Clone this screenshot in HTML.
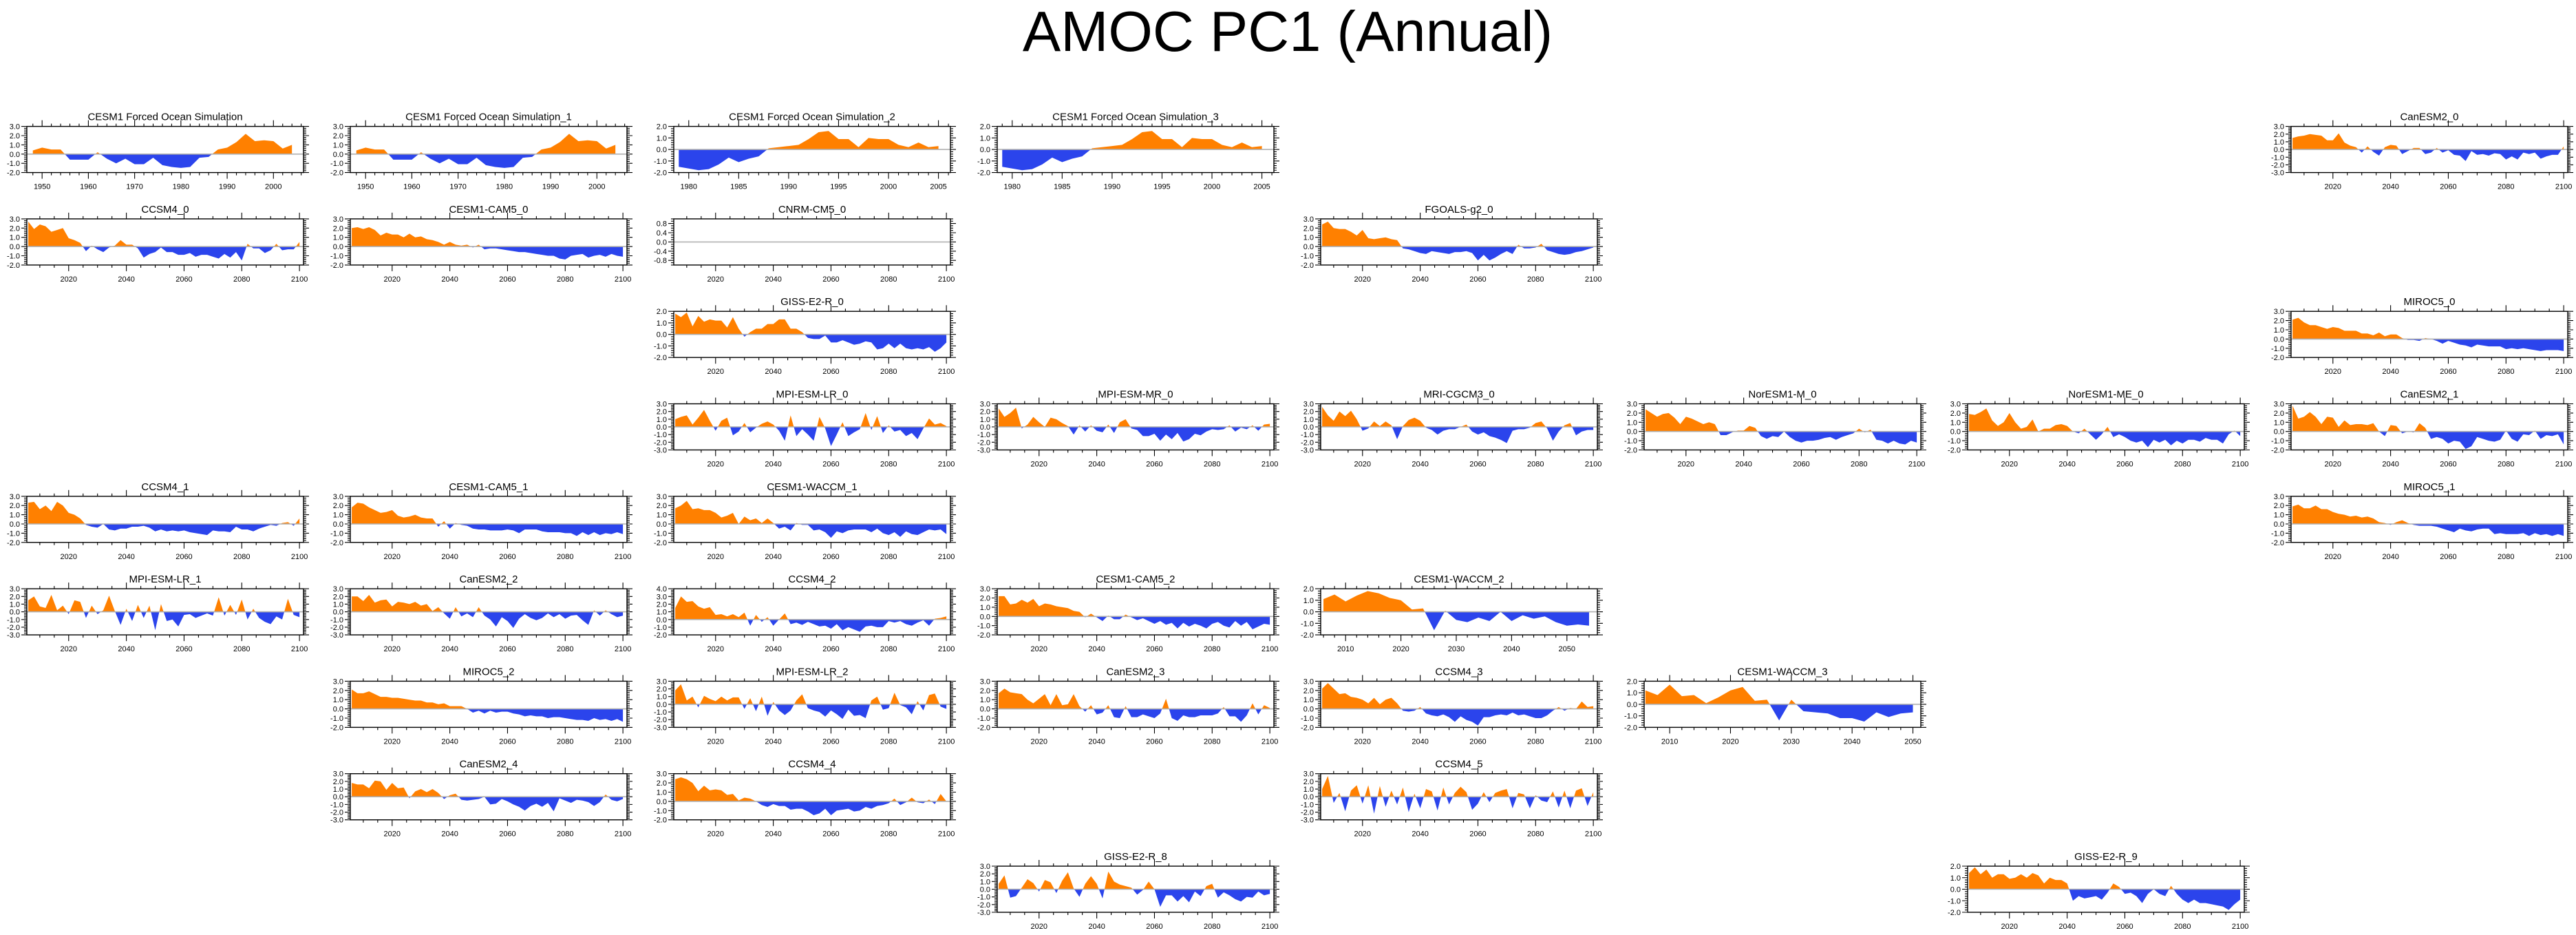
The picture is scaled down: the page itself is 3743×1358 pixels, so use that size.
<!DOCTYPE html>
<html><head><meta charset="utf-8">
<style>
html,body{margin:0;padding:0;background:#fff;}
svg{display:block;}
text{font-family:"Liberation Sans",Arial,sans-serif;fill:#000;}
</style></head>
<body>
<svg id="fig" width="3743" height="1358" viewBox="0 0 3743 1358" xmlns="http://www.w3.org/2000/svg">
<rect width="3743" height="1358" fill="#fff"/>
<text x="1871" y="74" font-size="83" text-anchor="middle">AMOC PC1 (Annual)</text>
</svg>
<script>
// ---- data: each series sampled every 2 years from its start year (FOS_2 yearly) ----
const fos = [0.4,0.7,0.5,0.5,-0.6,-0.6,-0.6,0.2,-0.5,-1.0,-0.5,-1.1,-1.1,-0.4,-1.2,-1.4,-1.5,-1.4,-0.4,-0.3,0.5,0.7,1.3,2.2,1.4,1.5,1.4,0.6,1.0];
const fos2 = [-1.5,-1.65,-1.8,-1.7,-1.3,-0.7,-1.1,-0.8,-0.6,0.1,0.2,0.3,0.4,0.9,1.5,1.6,0.9,0.9,0.2,1.0,0.9,0.9,0.4,0.2,0.6,0.2,0.3];
const canesm2_0 = [1.5,1.7,1.8,2.0,1.9,1.8,1.2,1.2,2.1,0.9,0.5,0.3,
 -0.4,0.4,-0.3,-0.8,0.3,0.6,0.5,-0.6,-0.2,0.2,0.2,-0.6,
 -0.4,0.2,-0.4,-0.1,-0.7,-0.8,-1.5,-0.2,-0.7,-0.6,-0.8,-0.5,
 -0.6,-1.3,-0.9,-1.3,-0.4,-0.6,-0.4,-1.2,-0.9,-0.7,-0.7,0.4];
const ccsm4_0 = [2.7,1.9,2.4,2.2,1.6,1.8,2.0,0.9,0.7,0.4,-0.5,0.1,
 -0.3,-0.6,-0.1,0.1,0.7,0.2,0.2,-0.2,-1.2,-0.8,-0.6,-0.1,
 -0.6,-0.6,-0.9,-0.9,-0.7,-1.1,-0.9,-0.9,-1.1,-1.3,-0.8,-1.2,
 -0.6,-1.5,0.3,-0.2,-0.2,-0.7,-0.4,0.3,-0.4,-0.3,-0.3,0.5];
const cam5_0 = [2.0,2.1,1.9,2.1,1.8,1.2,1.5,1.3,1.3,1.0,1.4,1.0,
 1.1,0.8,0.7,0.5,0.2,0.5,0.2,0.1,0.2,-0.1,0.2,-0.3,
 -0.2,-0.2,-0.3,-0.4,-0.5,-0.6,-0.6,-0.7,-0.8,-0.9,-1.0,-1.0,
 -1.3,-1.4,-1.0,-0.9,-0.8,-1.2,-1.0,-0.9,-1.1,-0.8,-1.0,-1.1];
const cnrm_0 = [];
const fgoals_0 = [2.4,2.7,2.0,1.9,1.9,1.6,1.2,1.8,0.9,0.8,0.9,1.0,
 0.8,0.7,-0.2,-0.3,-0.5,-0.7,-0.8,-0.5,-0.6,-0.7,-0.8,-0.6,
 -0.6,-0.5,-0.7,-1.5,-0.9,-1.5,-1.2,-0.8,-0.5,-0.8,0.2,-0.2,
 -0.2,-0.1,0.3,-0.4,-0.6,-0.8,-0.9,-0.8,-0.6,-0.5,-0.3,-0.1];
const giss_0 = [1.8,1.5,1.9,0.7,1.6,1.1,1.3,1.2,1.2,0.6,1.5,0.5,
 -0.2,0.2,0.5,0.5,0.9,0.9,1.3,1.3,0.5,0.5,0.2,-0.3,
 -0.4,-0.4,-0.1,-0.7,-0.7,-0.5,-0.7,-0.9,-0.8,-0.6,-0.7,-1.3,
 -1.2,-0.8,-1.2,-0.8,-1.2,-1.3,-1.2,-1.3,-1.1,-1.5,-1.2,-0.7];
const miroc5_0 = [2.1,2.3,1.8,1.5,1.5,1.3,1.1,1.3,1.2,0.9,0.9,0.9,
 0.6,0.6,0.4,0.7,0.3,0.5,0.5,0.1,-0.1,-0.1,-0.2,0.1,
 0.0,-0.2,-0.5,-0.2,-0.4,-0.6,-0.7,-0.9,-0.6,-0.7,-0.8,-0.8,
 -0.8,-1.1,-1.0,-1.1,-1.0,-1.1,-1.2,-1.3,-1.2,-1.2,-1.2,-1.3];
const mpilr_0 = [1.0,1.3,1.5,0.3,1.2,2.2,0.8,-0.5,0.8,1.2,-1.1,-0.6,
 0.5,-0.7,-0.1,0.4,0.7,0.3,-0.5,-1.8,1.5,-1.2,-0.3,-1.0,
 -1.8,1.3,-0.2,-2.5,-1.0,0.6,-1.2,-0.7,-0.3,1.8,-0.4,1.4,
 -0.8,0.2,-0.6,-0.4,-1.2,-0.8,-1.6,-0.2,1.1,0.3,0.5,0.1];
const mpimr_0 = [2.4,1.3,1.8,2.5,-0.2,0.3,1.3,0.6,0.0,1.2,1.0,0.5,
 0.1,-1.0,0.2,-0.6,0.2,-0.5,-0.7,0.3,-0.8,0.6,1.0,-0.2,
 -0.4,-1.2,-1.2,-0.9,-1.8,-1.0,-1.6,-0.8,-1.9,-1.6,-0.9,-1.1,
 -0.6,-0.3,-0.4,-0.3,0.2,-0.6,-0.1,-0.3,0.2,-0.5,0.3,0.4];
const mri_0 = [2.6,1.5,0.8,2.0,1.4,2.1,1.0,-0.5,-0.2,0.7,0.1,0.7,
 0.2,-1.6,0.1,0.9,1.2,0.8,-0.1,-0.4,-1.0,-0.5,-0.3,-0.3,
 0.0,0.3,-0.6,-1.0,-0.7,-1.2,-1.4,-1.7,-2.1,-0.5,-0.3,-0.3,
 -0.1,0.5,0.7,-0.2,-1.8,-0.6,0.2,0.5,-1.1,-0.6,-0.4,-0.4];
const noresm_m_0 = [2.4,2.0,1.6,1.9,2.0,1.5,0.8,1.6,1.4,1.1,0.8,1.0,
 0.8,-0.4,-0.4,-0.1,0.1,0.1,0.6,0.4,-0.5,-0.8,-0.5,-0.6,
 0.0,-0.6,-1.0,-1.2,-1.0,-1.0,-0.9,-0.7,-0.6,-0.9,-0.6,-0.4,
 -0.2,0.3,-0.1,0.2,-0.9,-1.0,-1.3,-1.0,-1.3,-1.4,-1.0,-1.2];
const noresm_me_0 = [1.9,1.8,2.1,2.5,1.2,0.6,1.0,2.0,1.0,0.3,0.5,1.3,
 0.0,0.3,0.3,0.7,0.8,0.6,0.0,-0.2,0.3,-0.3,-0.9,-0.3,
 0.5,-0.6,-0.3,-0.6,-1.0,-1.2,-1.0,-1.7,-0.9,-1.2,-0.9,-1.5,
 -1.0,-1.3,-0.9,-0.9,-1.1,-0.7,-0.9,-0.9,-1.3,-0.3,0.1,-0.5];
const canesm2_1 = [2.8,1.4,1.6,2.1,1.6,0.8,1.6,1.5,0.5,1.2,0.7,0.8,
 0.8,0.7,0.9,0.0,-0.5,0.7,0.6,-0.2,0.0,-0.1,0.9,0.4,
 -0.8,-0.6,-0.8,-1.3,-1.0,-1.1,-1.9,-1.6,-0.6,-0.8,-1.0,-1.1,
 -0.9,0.1,-0.8,-1.1,-0.3,-0.4,0.1,-0.8,-0.4,-0.5,-0.3,-1.4];
const ccsm4_1 = [2.3,2.4,1.6,2.0,1.4,2.4,2.0,1.2,1.0,0.6,-0.1,-0.3,
 -0.4,0.0,-0.6,-0.7,-0.5,-0.5,-0.3,-0.3,-0.2,-0.4,-0.8,-0.6,
 -0.8,-0.7,-0.8,-0.7,-0.9,-1.0,-1.1,-1.2,-0.7,-0.8,-0.8,-0.9,
 -0.3,-0.6,-0.6,-0.8,-0.5,-0.3,-0.1,-0.2,0.1,0.2,-0.2,0.6];
const cam5_1 = [1.8,2.3,2.2,1.8,1.5,1.2,1.3,1.5,0.9,0.7,0.8,1.0,
 0.7,0.6,0.6,-0.3,0.3,-0.5,0.1,-0.1,-0.2,-0.5,-0.6,-0.6,
 -0.7,-0.7,-0.7,-0.6,-0.7,-1.0,-0.6,-0.6,-0.6,-0.8,-0.9,-0.9,
 -0.9,-1.0,-1.0,-1.3,-0.9,-1.2,-0.9,-1.2,-1.0,-1.1,-0.9,-1.1];
const waccm_1 = [1.7,2.0,2.5,1.6,1.7,1.5,1.5,1.2,0.7,0.9,1.2,0.0,
 0.8,0.4,0.6,0.1,0.6,0.1,-0.5,-0.3,-0.7,0.1,-0.1,-0.1,
 -0.7,-0.6,-0.9,-1.5,-0.8,-1.0,-0.7,-0.6,-0.6,-0.6,-0.9,-0.5,
 -1.0,-1.2,-0.9,-1.4,-0.8,-1.1,-1.2,-0.9,-0.6,-0.7,-0.6,-1.1];
const miroc5_1 = [1.9,2.1,1.7,1.7,2.0,1.6,1.6,1.3,1.1,1.0,0.8,0.9,
 0.7,0.8,0.6,0.2,0.1,-0.1,0.2,0.4,0.1,-0.1,-0.2,-0.2,
 -0.2,-0.3,-0.5,-0.7,-0.9,-0.5,-0.7,-0.8,-0.6,-0.5,-0.5,-1.1,
 -1.0,-1.1,-1.1,-1.1,-1.0,-1.3,-1.0,-1.2,-1.1,-1.3,-1.1,-1.3];
const mpilr_1 = [1.5,2.0,0.7,0.5,2.2,0.2,0.8,-0.3,1.5,1.3,-0.8,0.8,
 -0.3,0.2,2.1,0.1,-1.7,0.4,-1.2,0.9,-0.8,0.8,-2.4,1.0,
 -1.2,-1.0,-1.9,-0.4,-0.3,-0.8,-0.5,-0.2,-0.5,1.9,-0.5,0.9,
 -0.4,1.6,-1.0,0.4,-0.8,-1.3,-1.6,-0.6,-1.0,1.7,-0.4,-0.7];
const canesm2_2 = [2.0,2.0,1.4,2.2,1.2,1.5,1.6,0.7,1.3,1.2,1.0,1.3,
 0.8,1.0,0.1,0.6,-0.2,-0.9,0.6,-0.6,-0.2,-0.7,0.6,-0.5,
 -1.0,-1.9,-0.7,-1.2,-2.1,-0.9,-0.3,-0.8,-1.1,-0.8,-0.2,-0.7,
 -0.3,-0.9,-0.5,-0.4,-1.1,-1.7,0.2,-0.5,0.2,-0.3,-0.7,-0.5];
const ccsm4_2 = [1.5,3.0,2.3,2.4,1.7,1.4,1.6,0.6,0.7,0.4,0.7,0.3,
 0.9,-0.8,0.6,-0.3,0.3,-0.8,0.0,0.8,-0.6,-0.4,-0.7,-0.3,
 -0.6,-0.9,-0.8,-1.2,-0.6,-1.4,-1.0,-1.3,-1.6,-0.9,-0.8,-1.0,
 -1.0,-0.2,-0.4,-0.2,-0.6,-0.8,-0.4,-0.1,-0.8,0.1,0.2,0.4];
const cam5_2 = [2.2,2.2,1.3,1.4,1.8,1.5,1.9,1.1,1.4,1.3,1.1,1.0,
 0.9,0.6,0.5,-0.1,0.3,-0.1,-0.5,0.1,-0.3,-0.3,0.2,-0.1,
 -0.4,-0.2,-0.5,-0.8,-0.5,-0.9,-0.7,-1.3,-0.7,-1.1,-0.8,-1.0,
 -1.3,-0.8,-0.6,-1.0,-1.2,-0.5,-1.0,-0.6,-1.4,-1.1,-0.8,-0.9];
const waccm_2 = [1.1,1.5,0.9,1.4,1.8,1.6,1.2,1.0,0.2,0.3,-1.6,0.1,
 -0.7,-0.9,-0.5,-0.8,0.0,-0.8,-0.3,-0.6,-0.4,-0.9,-1.2,-1.1,-1.2];
const miroc5_2 = [2.1,1.7,1.7,1.9,1.6,1.3,1.3,1.2,1.2,1.1,1.0,0.9,
 0.9,0.7,0.7,0.5,0.6,0.3,0.3,0.3,0.0,-0.4,-0.2,-0.5,
 -0.2,-0.4,-0.3,-0.3,-0.5,-0.6,-0.8,-0.7,-0.8,-0.8,-1.0,-0.9,
 -0.9,-1.0,-1.1,-1.2,-1.2,-1.3,-1.0,-1.2,-1.1,-1.3,-1.1,-1.4];
const mpilr_2 = [1.8,2.6,0.5,1.0,-0.4,1.1,0.7,0.4,1.0,0.5,0.9,0.9,
 -0.6,0.8,-0.9,1.0,-1.5,0.3,-0.8,-1.4,-0.8,0.5,1.3,-0.5,
 -0.8,-1.0,-1.6,-0.8,-1.3,-1.9,-0.7,-1.5,-1.4,-1.8,0.5,1.0,
 -0.7,-0.5,1.5,-0.1,-0.4,-1.3,0.4,-0.8,1.2,1.4,-0.3,-0.6];
const canesm2_3 = [1.7,2.2,1.8,1.7,1.6,1.0,0.6,1.1,1.6,0.4,1.6,0.4,
 0.5,1.6,0.3,-0.3,0.4,-0.6,-0.4,0.4,-0.9,-1.0,0.3,-0.9,
 -0.9,-0.6,-0.8,-1.0,-0.5,1.1,-1.0,-1.3,-0.7,-0.9,-0.9,-0.7,
 -0.7,-0.7,-0.5,0.2,-0.8,-0.8,-1.4,-0.7,0.6,-0.6,0.4,0.1];
const ccsm4_3 = [2.2,2.8,2.2,1.6,1.7,1.3,1.2,1.0,0.6,1.2,0.5,1.0,
 1.2,0.6,-0.2,-0.3,-0.2,0.2,-0.5,-0.7,-0.8,-0.6,-0.9,-1.4,
 -0.8,-1.2,-1.4,-1.8,-0.9,-0.9,-0.7,-0.6,-0.7,-0.4,-0.7,-0.6,
 -0.8,-1.0,-1.0,-0.7,-0.2,0.2,-0.2,0.1,0.0,0.8,0.2,0.3];
const waccm_3 = [1.2,0.8,1.7,0.7,0.8,0.1,0.6,1.2,1.5,0.3,0.4,-1.4,
 0.4,-0.6,-0.7,-0.8,-1.2,-1.2,-1.5,-0.7,-1.1,-0.8,-0.7];
const canesm2_4 = [1.8,1.6,1.6,1.1,2.1,2.0,0.9,1.8,1.1,1.2,-0.2,0.7,
 1.0,0.6,1.0,0.5,-0.3,0.2,0.4,-0.4,-0.5,-0.4,-0.3,0.0,
 -1.0,-0.9,-0.3,-0.6,-1.0,-1.3,-1.8,-1.2,-0.9,-1.3,-0.8,-1.9,
 -0.2,-0.5,-0.8,-0.4,-0.5,-0.7,-1.2,-0.7,0.3,-0.4,-0.6,-0.3];
const ccsm4_4 = [2.4,2.6,2.4,2.0,1.1,1.7,1.2,1.3,1.2,0.7,0.8,0.1,
 0.4,0.3,0.0,-0.4,-0.6,-0.3,-0.5,-0.5,-0.9,-0.8,-0.8,-1.1,
 -1.5,-1.3,-0.8,-1.5,-1.0,-0.9,-0.8,-1.1,-1.0,-0.6,-0.8,-0.5,
 -0.4,-0.2,0.3,-0.4,-0.1,0.4,-0.1,-0.2,0.2,-0.3,0.8,0.0];
const ccsm4_5 = [1.0,2.7,-0.8,0.5,-1.9,0.8,1.5,-0.9,1.5,-2.2,1.4,-1.3,
 0.8,-1.0,1.2,-2.0,0.4,-1.5,1.0,0.7,-1.8,1.2,-1.0,0.5,
 1.3,0.6,-1.7,-0.9,0.6,-0.7,0.5,0.8,1.0,-1.5,0.5,0.3,
 -1.5,0.2,-0.5,-0.7,0.7,-1.4,0.8,-1.5,0.8,1.1,-1.2,0.6];
const giss_8 = [0.7,1.8,-1.1,-0.9,0.2,1.3,0.8,-0.3,1.2,0.9,-0.5,1.1,
 2.2,0.1,-1.0,0.7,1.7,0.7,-1.2,2.3,1.0,0.6,0.4,0.2,
 -0.7,-0.1,1.0,0.0,-2.3,-0.8,-0.8,-1.6,-0.9,-1.7,-0.3,-0.9,
 0.4,0.7,-1.1,-0.4,-0.8,-1.3,-1.6,-1.0,-1.1,-0.3,-0.8,-0.6];
const giss_9 = [1.4,1.9,1.3,1.7,1.0,1.3,1.3,0.9,1.0,1.3,1.0,1.4,
 1.2,0.5,1.0,0.8,0.8,0.5,-1.0,-0.6,-0.8,-0.7,-0.6,-0.9,
 -0.3,0.5,0.2,-0.4,-0.3,-0.6,-1.2,-0.4,0.0,-0.4,-0.6,0.3,
 -0.4,-0.9,-1.2,-0.9,-1.2,-1.2,-1.3,-1.4,-1.5,-1.8,-1.3,-0.9];

// ---- axis configurations (not data) ----
const STD = {xmin:2005.5,xmax:2101.4,maj0:2020,majStep:20,majEnd:2100,min0:2010,minStep:5};
const FOSX = {xmin:1946.7,xmax:2006.5,maj0:1950,majStep:10,majEnd:2000,min0:1948,minStep:2};
const FOS2X = {xmin:1978.5,xmax:2006.2,maj0:1980,majStep:5,majEnd:2005,min0:1979,minStep:1};
const W2X = {xmin:2005.5,xmax:2055.5,maj0:2010,majStep:10,majEnd:2050,min0:2006,minStep:2};
const W3X = {xmin:2005.8,xmax:2051.3,maj0:2010,majStep:10,majEnd:2050,min0:2006,minStep:2};
const Y23 = {ymin:-2,ymax:3,ystep:1,yminor:0.2};
const Y33 = {ymin:-3,ymax:3,ystep:1,yminor:0.2};
const Y22 = {ymin:-2,ymax:2,ystep:1,yminor:0.2};
const Y24 = {ymin:-2,ymax:4,ystep:1,yminor:0.2};
const YCN = {ymin:-1,ymax:1,ystep:0.4,yminor:0.1,ylab0:-0.8};

const panels = [
 {t:"CESM1 Forced Ocean Simulation",c:0,r:0,d:fos,s:1948,st:2,x:FOSX,y:Y23},
 {t:"CESM1 Forced Ocean Simulation_1",c:1,r:0,d:fos,s:1948,st:2,x:FOSX,y:Y23},
 {t:"CESM1 Forced Ocean Simulation_2",c:2,r:0,d:fos2,s:1979,st:1,x:FOS2X,y:Y22},
 {t:"CESM1 Forced Ocean Simulation_3",c:3,r:0,d:fos2,s:1979,st:1,x:FOS2X,y:Y22},
 {t:"CanESM2_0",c:7,r:0,d:canesm2_0,s:2006,st:2,x:STD,y:Y33},
 {t:"CCSM4_0",c:0,r:1,d:ccsm4_0,s:2006,st:2,x:STD,y:Y23},
 {t:"CESM1-CAM5_0",c:1,r:1,d:cam5_0,s:2006,st:2,x:STD,y:Y23},
 {t:"CNRM-CM5_0",c:2,r:1,d:cnrm_0,s:2006,st:2,x:STD,y:YCN},
 {t:"FGOALS-g2_0",c:4,r:1,d:fgoals_0,s:2006,st:2,x:STD,y:Y23},
 {t:"GISS-E2-R_0",c:2,r:2,d:giss_0,s:2006,st:2,x:STD,y:Y22},
 {t:"MIROC5_0",c:7,r:2,d:miroc5_0,s:2006,st:2,x:STD,y:Y23},
 {t:"MPI-ESM-LR_0",c:2,r:3,d:mpilr_0,s:2006,st:2,x:STD,y:Y33},
 {t:"MPI-ESM-MR_0",c:3,r:3,d:mpimr_0,s:2006,st:2,x:STD,y:Y33},
 {t:"MRI-CGCM3_0",c:4,r:3,d:mri_0,s:2006,st:2,x:STD,y:Y33},
 {t:"NorESM1-M_0",c:5,r:3,d:noresm_m_0,s:2006,st:2,x:STD,y:Y23},
 {t:"NorESM1-ME_0",c:6,r:3,d:noresm_me_0,s:2006,st:2,x:STD,y:Y23},
 {t:"CanESM2_1",c:7,r:3,d:canesm2_1,s:2006,st:2,x:STD,y:Y23},
 {t:"CCSM4_1",c:0,r:4,d:ccsm4_1,s:2006,st:2,x:STD,y:Y23},
 {t:"CESM1-CAM5_1",c:1,r:4,d:cam5_1,s:2006,st:2,x:STD,y:Y23},
 {t:"CESM1-WACCM_1",c:2,r:4,d:waccm_1,s:2006,st:2,x:STD,y:Y23},
 {t:"MIROC5_1",c:7,r:4,d:miroc5_1,s:2006,st:2,x:STD,y:Y23},
 {t:"MPI-ESM-LR_1",c:0,r:5,d:mpilr_1,s:2006,st:2,x:STD,y:Y33},
 {t:"CanESM2_2",c:1,r:5,d:canesm2_2,s:2006,st:2,x:STD,y:Y33},
 {t:"CCSM4_2",c:2,r:5,d:ccsm4_2,s:2006,st:2,x:STD,y:Y24},
 {t:"CESM1-CAM5_2",c:3,r:5,d:cam5_2,s:2006,st:2,x:STD,y:Y23},
 {t:"CESM1-WACCM_2",c:4,r:5,d:waccm_2,s:2006,st:2,x:W2X,y:Y22},
 {t:"MIROC5_2",c:1,r:6,d:miroc5_2,s:2006,st:2,x:STD,y:Y23},
 {t:"MPI-ESM-LR_2",c:2,r:6,d:mpilr_2,s:2006,st:2,x:STD,y:Y33},
 {t:"CanESM2_3",c:3,r:6,d:canesm2_3,s:2006,st:2,x:STD,y:Y23},
 {t:"CCSM4_3",c:4,r:6,d:ccsm4_3,s:2006,st:2,x:STD,y:Y23},
 {t:"CESM1-WACCM_3",c:5,r:6,d:waccm_3,s:2006,st:2,x:W3X,y:Y22},
 {t:"CanESM2_4",c:1,r:7,d:canesm2_4,s:2006,st:2,x:STD,y:Y33},
 {t:"CCSM4_4",c:2,r:7,d:ccsm4_4,s:2006,st:2,x:STD,y:Y23},
 {t:"CCSM4_5",c:4,r:7,d:ccsm4_5,s:2006,st:2,x:STD,y:Y33},
 {t:"GISS-E2-R_8",c:3,r:8,d:giss_8,s:2006,st:2,x:STD,y:Y33},
 {t:"GISS-E2-R_9",c:6,r:8,d:giss_9,s:2006,st:2,x:STD,y:Y22}
];

const NS = "http://www.w3.org/2000/svg";
const svg = document.getElementById("fig");
const PW = 402, PH = 67;
function mk(tag, attrs, parent){
  const e = document.createElementNS(NS, tag);
  for (const k in attrs) e.setAttribute(k, attrs[k]);
  parent.appendChild(e);
  return e;
}
const slug = s => s.toLowerCase().replace(/[^a-z0-9]+/g,'-').replace(/-+$/,'');
const ORANGE = "#ff8000", BLUE = "#2b44ec";

panels.forEach((p, pi) => {
  const L = 39 + 470 * p.c, T = 183.6 + 134.3 * p.r;
  const X = p.x, Y = p.y;
  const sx = v => L + (v - X.xmin) / (X.xmax - X.xmin) * PW;
  const sy = v => T + (Y.ymax - v) / (Y.ymax - Y.ymin) * PH;
  const g = mk("g", {}, svg);
  
  

  const title = mk("text", {x: L + PW/2, y: T - 9, "font-size": 15, "text-anchor": "middle"}, g);
  title.textContent = p.t;
  
  

  // filled area
  if (p.d.length) {
    const y0 = sy(0);
    let dpath = "M" + sx(p.s).toFixed(2) + "," + y0.toFixed(2);
    p.d.forEach((v, i) => { dpath += " L" + sx(p.s + i * p.st).toFixed(2) + "," + sy(v).toFixed(2); });
    dpath += " L" + sx(p.s + (p.d.length - 1) * p.st).toFixed(2) + "," + y0.toFixed(2) + " Z";
    const cu = "cu" + pi, cd = "cd" + pi;
    const defs = mk("defs", {}, g);
    const c1 = mk("clipPath", {id: cu}, defs); mk("rect", {x: L, y: T, width: PW, height: y0 - T}, c1);
    const c2 = mk("clipPath", {id: cd}, defs); mk("rect", {x: L, y: y0, width: PW, height: T + PH - y0}, c2);
    const pos = mk("path", {d: dpath, fill: ORANGE, "clip-path": "url(#" + cu + ")"}, g);
    
    
    const neg = mk("path", {d: dpath, fill: BLUE, "clip-path": "url(#" + cd + ")"}, g);
    
    
  }
  const zl = mk("line", {x1: L, x2: L + PW, y1: sy(0), y2: sy(0), stroke: "#b0b0b0", "stroke-width": 1.6}, g);
  
  

  // frame
  const fr = mk("rect", {x: L, y: T, width: PW, height: PH, fill: "none", stroke: "#000", "stroke-width": 1.4}, g);
  
  

  // ticks
  let tp = "";
  for (let v = X.min0; v <= X.xmax + 1e-6; v += X.minStep) {
    if (v < X.xmin) continue;
    const x = sx(v).toFixed(2);
    tp += "M" + x + "," + T + " v-4 M" + x + "," + (T + PH) + " v4 ";
  }
  for (let v = X.maj0; v <= X.majEnd + 1e-6; v += X.majStep) {
    const x = sx(v).toFixed(2);
    tp += "M" + x + "," + T + " v-9 M" + x + "," + (T + PH) + " v9 ";
  }
  const nmin = Math.round((Y.ymax - Y.ymin) / Y.yminor);
  for (let i = 0; i <= nmin; i++) {
    const y = sy(Y.ymin + i * Y.yminor).toFixed(2);
    tp += "M" + L + "," + y + " h-4 M" + (L + PW) + "," + y + " h4 ";
  }
  const lab0 = Y.ylab0 !== undefined ? Y.ylab0 : Y.ymin;
  for (let v = lab0; v <= Y.ymax + 1e-6; v += Y.ystep) {
    const y = sy(v).toFixed(2);
    tp += "M" + L + "," + y + " h-8 M" + (L + PW) + "," + y + " h8 ";
  }
  const tk = mk("path", {d: tp, stroke: "#000", "stroke-width": 1.1, fill: "none"}, g);
  
  

  // labels
  for (let v = lab0; v <= Y.ymax + 1e-6; v += Y.ystep) {
    const t = mk("text", {x: L - 10, y: sy(v) + 4, "font-size": 11, "text-anchor": "end"}, g);
    let s = (Math.abs(v) < 1e-9 ? 0 : v).toFixed(1);
    t.textContent = s;
    
    
  }
  for (let v = X.maj0; v <= X.majEnd + 1e-6; v += X.majStep) {
    const t = mk("text", {x: sx(v), y: T + PH + 24, "font-size": 11, "text-anchor": "middle"}, g);
    t.textContent = String(v);
    
    
  }
});
</script>
</body></html>
